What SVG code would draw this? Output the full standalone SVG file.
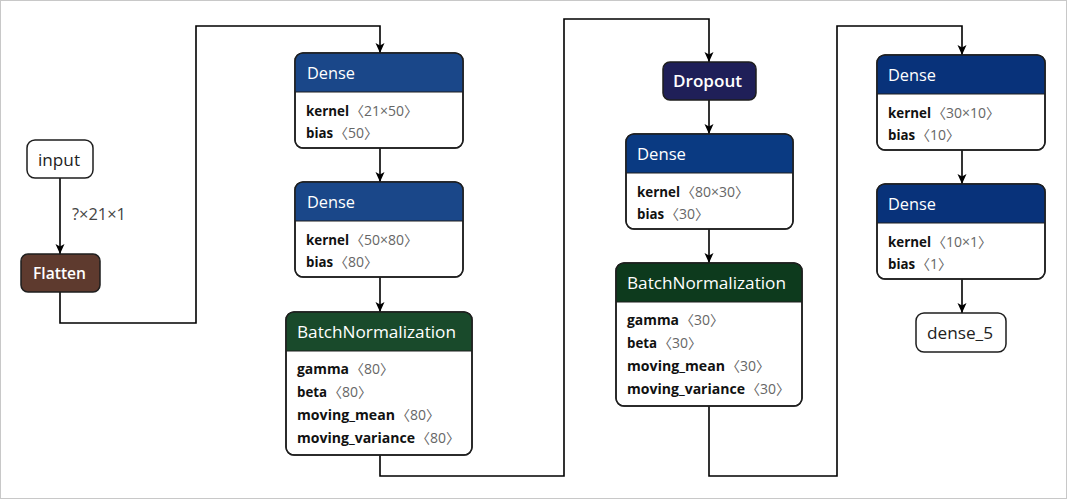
<svg xmlns="http://www.w3.org/2000/svg" width="1067" height="499" viewBox="0 0 1067 499">
<style>
.frame{fill:#fff;stroke:#c8c8c8;stroke-width:1}
.box{fill:#fff;stroke:#1e1e1e;stroke-width:1.5}
.edge{fill:none;stroke:#000;stroke-width:1.6}
.hd{font-family:"Open Sans","Noto Sans",sans-serif;font-size:16.5px;fill:#fff}
.sb{font-weight:600}
.k{font-family:"Open Sans","Noto Sans",sans-serif;font-size:14px;font-weight:bold;fill:#111}
.v{font-family:"Open Sans","Noto Sans","Noto Sans CJK SC",sans-serif;font-size:14px;fill:#666}
.plain{font-family:"Open Sans","Noto Sans",sans-serif;font-size:17px;fill:#222}
.lbl{font-family:"Open Sans","Noto Sans",sans-serif;font-size:15.5px;fill:#444}
.sep{stroke:#1e1e1e;stroke-width:1}
</style>
<defs>
<marker id="arr" markerUnits="userSpaceOnUse" markerWidth="10" markerHeight="10" viewBox="0 0 10 10" refX="10" refY="5" orient="auto">
<path d="M0,0.5 L10,5 L0,9.5 L2.5,5 z" fill="#000"/>
</marker>
</defs>
<rect class="frame" x="0.5" y="0.5" width="1066" height="498"/>

<g id="connectors">
<path class="edge" d="M60,178 V254" marker-end="url(#arr)"/>
<text class="lbl" x="72" y="220" textLength="54" lengthAdjust="spacingAndGlyphs">?×21×1</text>
<path class="edge" d="M60,292 V323 H196 V26 H380 V53" marker-end="url(#arr)"/>
<path class="edge" d="M380,148 V182" marker-end="url(#arr)"/>
<path class="edge" d="M380,277 V312" marker-end="url(#arr)"/>
<path class="edge" d="M380,455 V476 H564 V19 H709 V62" marker-end="url(#arr)"/>
<path class="edge" d="M709,100 V134" marker-end="url(#arr)"/>
<path class="edge" d="M709,229 V263" marker-end="url(#arr)"/>
<path class="edge" d="M709,406 V476 H837 V26 H962 V55" marker-end="url(#arr)"/>
<path class="edge" d="M962,150 V184" marker-end="url(#arr)"/>
<path class="edge" d="M962,279 V313" marker-end="url(#arr)"/>
</g>

<g id="input">
<rect class="box" x="27" y="140" width="66" height="38" rx="8"/>
<text class="plain" x="38" y="165.5" textLength="42" lengthAdjust="spacingAndGlyphs">input</text>
</g>

<g id="flatten">
<rect class="box" x="21" y="254" width="79" height="38" rx="7" style="fill:#5e3a2e"/>
<text class="hd sb" x="33" y="279" textLength="53" lengthAdjust="spacingAndGlyphs">Flatten</text>
</g>

<g id="dense_1">
<rect class="box" x="295" y="53" width="168" height="95" rx="8"/>
<path d="M295,92 V61 Q295,53 303,53 H455 Q463,53 463,61 V92 Z" fill="#1a4789"/>
<line class="sep" x1="295" y1="92" x2="463" y2="92"/>
<rect class="box" x="295" y="53" width="168" height="95" rx="8" style="fill:none"/>
<text class="hd" x="307" y="79" textLength="48" lengthAdjust="spacingAndGlyphs">Dense</text>
<text class="k" x="306" y="116" textLength="43" lengthAdjust="spacingAndGlyphs">kernel</text><text class="v" x="350" y="116">〈21×50〉</text>
<text class="k" x="306" y="138" textLength="27" lengthAdjust="spacingAndGlyphs">bias</text><text class="v" x="334" y="138">〈50〉</text>
</g>

<g id="dense_2">
<rect class="box" x="295" y="182" width="168" height="95" rx="8"/>
<path d="M295,221 V190 Q295,182 303,182 H455 Q463,182 463,190 V221 Z" fill="#1a4789"/>
<line class="sep" x1="295" y1="221" x2="463" y2="221"/>
<rect class="box" x="295" y="182" width="168" height="95" rx="8" style="fill:none"/>
<text class="hd" x="307" y="208" textLength="48" lengthAdjust="spacingAndGlyphs">Dense</text>
<text class="k" x="306" y="245" textLength="43" lengthAdjust="spacingAndGlyphs">kernel</text><text class="v" x="350" y="245">〈50×80〉</text>
<text class="k" x="306" y="267" textLength="27" lengthAdjust="spacingAndGlyphs">bias</text><text class="v" x="334" y="267">〈80〉</text>
</g>

<g id="batchnorm_1">
<rect class="box" x="286" y="312" width="186" height="143" rx="8"/>
<path d="M286,351 V320 Q286,312 294,312 H464 Q472,312 472,320 V351 Z" fill="#194a2b"/>
<line class="sep" x1="286" y1="351" x2="472" y2="351"/>
<rect class="box" x="286" y="312" width="186" height="143" rx="8" style="fill:none"/>
<text class="hd" x="297" y="338" textLength="159" lengthAdjust="spacingAndGlyphs">BatchNormalization</text>
<text class="k" x="297" y="374" textLength="52" lengthAdjust="spacingAndGlyphs">gamma</text><text class="v" x="350" y="374">〈80〉</text>
<text class="k" x="297" y="397" textLength="30" lengthAdjust="spacingAndGlyphs">beta</text><text class="v" x="328" y="397">〈80〉</text>
<text class="k" x="297" y="420" textLength="98" lengthAdjust="spacingAndGlyphs">moving_mean</text><text class="v" x="396" y="420">〈80〉</text>
<text class="k" x="297" y="443" textLength="118" lengthAdjust="spacingAndGlyphs">moving_variance</text><text class="v" x="416" y="443">〈80〉</text>
</g>

<g id="dropout">
<rect class="box" x="663" y="62" width="93" height="38" rx="7" style="fill:#1f1f58"/>
<text class="hd sb" x="673" y="87" textLength="69" lengthAdjust="spacingAndGlyphs">Dropout</text>
</g>

<g id="dense_3">
<rect class="box" x="626" y="134" width="167" height="95" rx="8"/>
<path d="M626,173 V142 Q626,134 634,134 H785 Q793,134 793,142 V173 Z" fill="#0a3a82"/>
<line class="sep" x1="626" y1="173" x2="793" y2="173"/>
<rect class="box" x="626" y="134" width="167" height="95" rx="8" style="fill:none"/>
<text class="hd" x="637" y="160" textLength="49" lengthAdjust="spacingAndGlyphs">Dense</text>
<text class="k" x="637" y="197" textLength="43" lengthAdjust="spacingAndGlyphs">kernel</text><text class="v" x="681" y="197">〈80×30〉</text>
<text class="k" x="637" y="219" textLength="27" lengthAdjust="spacingAndGlyphs">bias</text><text class="v" x="665" y="219">〈30〉</text>
</g>

<g id="batchnorm_2">
<rect class="box" x="616" y="263" width="186" height="143" rx="8"/>
<path d="M616,302 V271 Q616,263 624,263 H794 Q802,263 802,271 V302 Z" fill="#0d3a1d"/>
<line class="sep" x1="616" y1="302" x2="802" y2="302"/>
<rect class="box" x="616" y="263" width="186" height="143" rx="8" style="fill:none"/>
<text class="hd" x="627" y="289" textLength="159" lengthAdjust="spacingAndGlyphs">BatchNormalization</text>
<text class="k" x="627" y="325" textLength="52" lengthAdjust="spacingAndGlyphs">gamma</text><text class="v" x="680" y="325">〈30〉</text>
<text class="k" x="627" y="348" textLength="30" lengthAdjust="spacingAndGlyphs">beta</text><text class="v" x="658" y="348">〈30〉</text>
<text class="k" x="627" y="371" textLength="98" lengthAdjust="spacingAndGlyphs">moving_mean</text><text class="v" x="726" y="371">〈30〉</text>
<text class="k" x="627" y="394" textLength="118" lengthAdjust="spacingAndGlyphs">moving_variance</text><text class="v" x="746" y="394">〈30〉</text>
</g>

<g id="dense_4">
<rect class="box" x="877" y="55" width="168" height="95" rx="8"/>
<path d="M877,94 V63 Q877,55 885,55 H1037 Q1045,55 1045,63 V94 Z" fill="#08327a"/>
<line class="sep" x1="877" y1="94" x2="1045" y2="94"/>
<rect class="box" x="877" y="55" width="168" height="95" rx="8" style="fill:none"/>
<text class="hd" x="888" y="81" textLength="48" lengthAdjust="spacingAndGlyphs">Dense</text>
<text class="k" x="888" y="118" textLength="43" lengthAdjust="spacingAndGlyphs">kernel</text><text class="v" x="932" y="118">〈30×10〉</text>
<text class="k" x="888" y="140" textLength="27" lengthAdjust="spacingAndGlyphs">bias</text><text class="v" x="916" y="140">〈10〉</text>
</g>

<g id="dense_5_layer">
<rect class="box" x="877" y="184" width="168" height="95" rx="8"/>
<path d="M877,223 V192 Q877,184 885,184 H1037 Q1045,184 1045,192 V223 Z" fill="#08327a"/>
<line class="sep" x1="877" y1="223" x2="1045" y2="223"/>
<rect class="box" x="877" y="184" width="168" height="95" rx="8" style="fill:none"/>
<text class="hd" x="888" y="210" textLength="48" lengthAdjust="spacingAndGlyphs">Dense</text>
<text class="k" x="888" y="247" textLength="43" lengthAdjust="spacingAndGlyphs">kernel</text><text class="v" x="932" y="247">〈10×1〉</text>
<text class="k" x="888" y="269" textLength="27" lengthAdjust="spacingAndGlyphs">bias</text><text class="v" x="916" y="269">〈1〉</text>
</g>

<g id="dense_5">
<rect class="box" x="916" y="313" width="90" height="39" rx="8"/>
<text class="plain" x="927" y="338.5" textLength="66" lengthAdjust="spacingAndGlyphs">dense_5</text>
</g>
</svg>
